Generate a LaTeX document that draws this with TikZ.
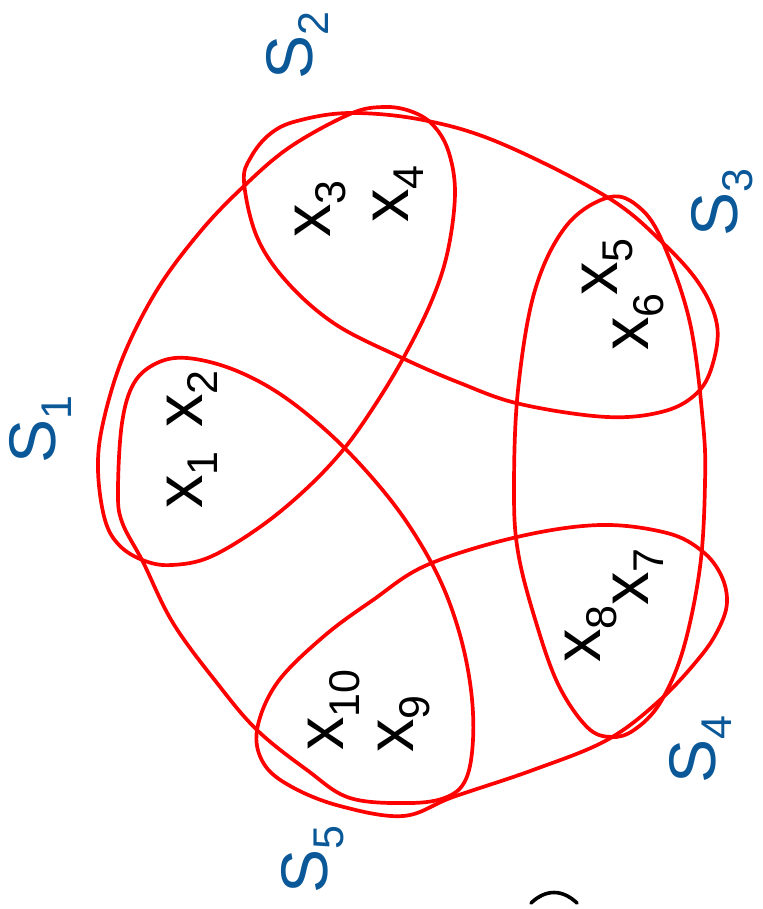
\documentclass[tikz,border=0pt]{standalone}
\usepackage{fontspec}
\setmainfont{Liberation Sans}
\definecolor{setblue}{RGB}{10,88,152}
\definecolor{loopred}{RGB}{255,0,0}
\newcommand{\elemlab}[3]{#1\raisebox{-#3pt}{\fontsize{43}{43}\selectfont #2}}
\tikzset{
  loop/.style={draw=loopred, line width=3.7pt},
  elem/.style={rotate=90, anchor=base west, inner sep=0pt, text=black, font=\fontsize{67}{67}\selectfont},
  setlab/.style={rotate=90, anchor=base west, inner sep=0pt, text=setblue, font=\fontsize{66}{66}\selectfont}
}
\begin{document}
\begin{tikzpicture}[x=1pt,y=-1pt]
\useasboundingbox (0,0) rectangle (762,909);
% S1 = {x1,x2,x3,x4}
\draw[loop] plot[smooth cycle, tension=0.6] coordinates {
 (98,470) (105,520) (120,546) (145,561) (172,565) (210,557) (260,527) (305,490)
 (343,450) (375,405) (405,355) (432,300) (448,250) (455,192) (448,150) (432,124)
 (410,111) (383,107) (350,114) (290,147) (243,187) (200,232) (157,290) (123,357) (103,423)};
% S2 = {x3,x4,x5,x6}
\draw[loop] plot[smooth cycle, tension=0.6] coordinates {
 (244,182) (251,157) (270,134) (297,121) (350,113) (423,120) (500,143) (607,197)
 (663,243) (700,285) (717,325) (713,363) (698,392) (665,411) (607,417) (520,404)
 (460,383) (400,357) (335,324) (287,282) (257,237)};
% S3 = {x5,x6,x7,x8}
\draw[loop] plot[smooth cycle, tension=0.6] coordinates {
 (610,197) (567,225) (535,290) (518,390) (514,490) (518,552) (535,619) (558,684)
 (587,727) (611,737) (634,730) (660,703) (683,650) (700,567) (705,483) (703,423)
 (690,323) (663,243) (640,208)};
% S4 = {x7,x8,x9,x10}
\draw[loop] plot[smooth cycle, tension=0.6] coordinates {
 (257,730) (277,683) (323,637) (373,600) (427,565) (517,537) (600,525) (667,533)
 (702,551) (721,575) (727,602) (719,628) (700,657) (660,700) (607,740) (533,770)
 (453,797) (403,816) (340,806) (292,787) (264,764)};
% S5 = {x9,x10,x1,x2}
\draw[loop] plot[smooth cycle, tension=0.6] coordinates {
 (187,358) (157,363) (134,383) (122,423) (118,490) (122,522) (143,562) (173,623)
 (217,683) (257,730) (307,770) (350,798) (410,803) (447,797) (466,779) (473,740)
 (471,690) (460,635) (440,580) (410,527) (375,481) (330,434) (280,394) (232,369)};
% elements
\node[elem] (x1) at (202,509) {\elemlab{x}{1}{15}};
\node[elem] (x2) at (202,428) {\elemlab{x}{2}{15}};
\node[elem] (x3) at (330,238) {\elemlab{x}{3}{15}};
\node[elem] (x4) at (408,223) {\elemlab{x}{4}{15}};
\node[elem] (x5) at (617,296) {\elemlab{x}{5}{15}};
\node[elem] (x6) at (648,351) {\elemlab{x}{6}{15}};
\node[elem] (x7) at (648,606) {\elemlab{x}{7}{15}};
\node[elem] (x8) at (600,663) {\elemlab{x}{8}{16}};
\node[elem] (x10) at (343,751) {\elemlab{x}{10}{16}};
\node[elem] (x9) at (413,753) {\elemlab{x}{9}{16}};
% set labels
\node[setlab] (s1) at (55,464) {\elemlab{S}{1}{16}};
\node[setlab] (s2) at (312,80) {\elemlab{S}{2}{16}};
\node[setlab] (s3) at (737,237) {\elemlab{S}{3}{15}};
\node[setlab] (s4) at (715,784) {\elemlab{S}{4}{16}};
\node[setlab] (s5) at (327,894) {\elemlab{S}{5}{16}};
% cut-off parenthesis at bottom edge
\draw[line width=3.6pt, line cap=round] (531,903) .. controls (546,889) and (562,889) .. (577,903);
\end{tikzpicture}
\end{document}
